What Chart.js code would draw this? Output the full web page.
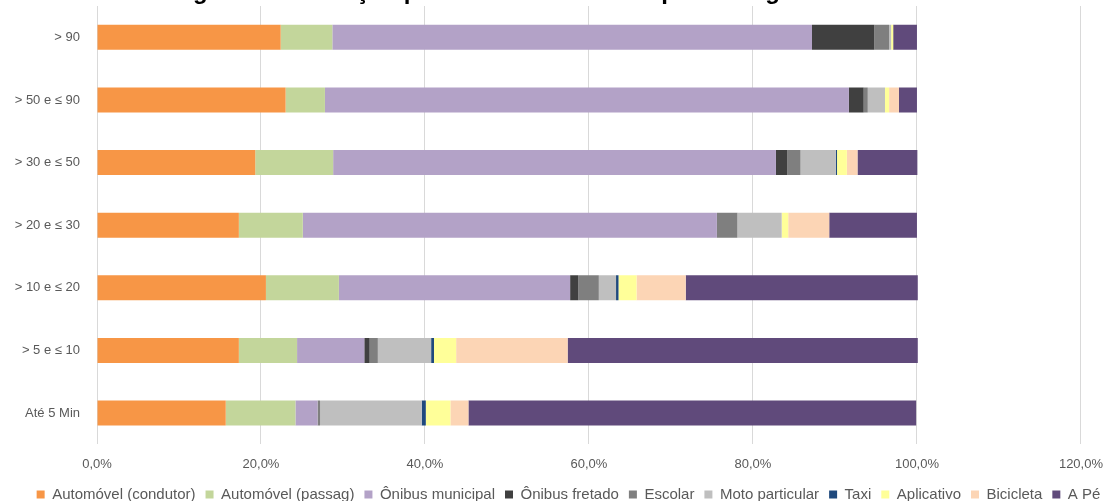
<!DOCTYPE html>
<html lang="pt">
<head>
    <meta charset="UTF-8">
    <title>Figura 27</title>
    <script src="https://cdn.jsdelivr.net/npm/chart.js"></script>
    <style>
        * {
            margin: 0;
            padding: 0;
            box-sizing: border-box;
        }

        body {
            width: 1105px;
            height: 501px;
            overflow: hidden;
            background: #fff;
            position: relative;
        }

        /* canvas is pushed up so the title is cut like in the scan */
        .chart-box {
            position: absolute;
            left: 0;
            top: -24px;
            width: 1105px;
            height: 536px;
        }
    </style>
</head>
<body>
    <div class="chart-box">
        <canvas id="modalChart"></canvas>
    </div>

    <script>
        // Categories (top to bottom)
        const categories = ['> 90', '> 50 e ≤ 90', '> 30 e ≤ 50', '> 20 e ≤ 30', '> 10 e ≤ 20', '> 5 e ≤ 10', 'Até 5 Min'];

        // Series values, % of trips
        const autoCondutor = [22.4, 23.0, 19.3, 17.3, 20.6, 17.3, 15.7];
        const autoPassag   = [6.3, 4.8, 9.5, 7.8, 8.9, 7.1, 8.5];
        const onibusMunic  = [58.5, 63.9, 54.0, 50.5, 28.2, 8.2, 2.7];
        const onibusFret   = [7.6, 1.8, 1.4, 0.0, 1.0, 0.65, 0.0];
        const escolar      = [1.8, 0.5, 1.6, 2.5, 2.5, 1.0, 0.3];
        const motoPart     = [0.25, 2.1, 4.3, 5.4, 2.1, 6.5, 12.4];
        const taxi         = [0.0, 0.0, 0.15, 0.0, 0.3, 0.35, 0.5];
        const aplicativo   = [0.25, 0.5, 1.2, 0.8, 2.2, 2.7, 3.0];
        const bicicleta    = [0.0, 1.2, 1.3, 5.0, 6.0, 13.6, 2.2];
        const aPe          = [2.9, 2.2, 7.3, 10.7, 28.3, 42.7, 54.6];

        // X axis tick labels (0 to 120, step 20)
        const tickLabels = ['0,0%', '20,0%', '40,0%', '60,0%', '80,0%', '100,0%', '120,0%'];

        const series = [
            { label: 'Automóvel (condutor)', data: autoCondutor, color: '#F79646' },
            { label: 'Automóvel (passag)', data: autoPassag, color: '#C3D69B' },
            { label: 'Ônibus municipal', data: onibusMunic, color: '#B3A2C7' },
            { label: 'Ônibus fretado', data: onibusFret, color: '#404040' },
            { label: 'Escolar', data: escolar, color: '#7F7F7F' },
            { label: 'Moto particular', data: motoPart, color: '#BFBFBF' },
            { label: 'Taxi', data: taxi, color: '#1F497D' },
            { label: 'Aplicativo', data: aplicativo, color: '#FFFF99' },
            { label: 'Bicicleta', data: bicicleta, color: '#FCD5B5' },
            { label: 'A Pé', data: aPe, color: '#604A7B' }
        ];

        Chart.defaults.font.family = "'Liberation Sans', Arial, sans-serif";
        Chart.defaults.color = '#595959';

        // the legend in the original sits a bit right of centre
        const legendShift = {
            id: 'legendShift',
            afterLayout(chart) {
                if (chart.legend) {
                    chart.legend.left += 16;
                    chart.legend.right += 16;
                }
            }
        };

        const ctx = document.getElementById('modalChart').getContext('2d');
        const modalChart = new Chart(ctx, {
            type: 'bar',
            data: {
                labels: categories,
                datasets: series.map(s => ({
                    label: s.label,
                    data: s.data,
                    backgroundColor: s.color,
                    borderWidth: 0,
                    categoryPercentage: 0.5,
                    barPercentage: 0.8
                }))
            },
            options: {
                indexAxis: 'y',
                responsive: true,
                maintainAspectRatio: false,
                animation: false,
                layout: {
                    padding: 0
                },
                scales: {
                    x: {
                        stacked: true,
                        min: 0,
                        max: 120,
                        ticks: {
                            stepSize: 20,
                            padding: 2,
                            font: { size: 13 },
                            color: '#595959',
                            callback: (value) => tickLabels[Math.round(value / 20)]
                        },
                        grid: { color: '#D9D9D9', drawTicks: true, tickLength: 10, tickColor: 'rgba(0,0,0,0)' },
                        border: { display: false },
                        afterFit: (scale) => { scale.height += 3; }
                    },
                    y: {
                        stacked: true,
                        ticks: {
                            padding: 17,
                            font: { size: 13 },
                            color: '#595959'
                        },
                        grid: { display: false, drawTicks: false },
                        border: { display: false },
                        // plot must start at x = 97
                        afterFit: (scale) => { scale.width = 97; }
                    }
                },
                plugins: {
                    title: {
                        display: true,
                        text: 'Figura 27 – Relação percentual entre o tempo de viagem e o modal',
                        color: '#000',
                        font: { size: 24, weight: 'bold', lineHeight: 1.0 },
                        padding: { top: 4, bottom: 2 }
                    },
                    legend: {
                        position: 'bottom',
                        labels: {
                            boxWidth: 8,
                            boxHeight: 8,
                            padding: 10,
                            font: { size: 15 },
                            color: '#595959'
                        }
                    },
                    tooltip: { enabled: false }
                }
            },
            plugins: [legendShift]
        });
    </script>
</body>
</html>
